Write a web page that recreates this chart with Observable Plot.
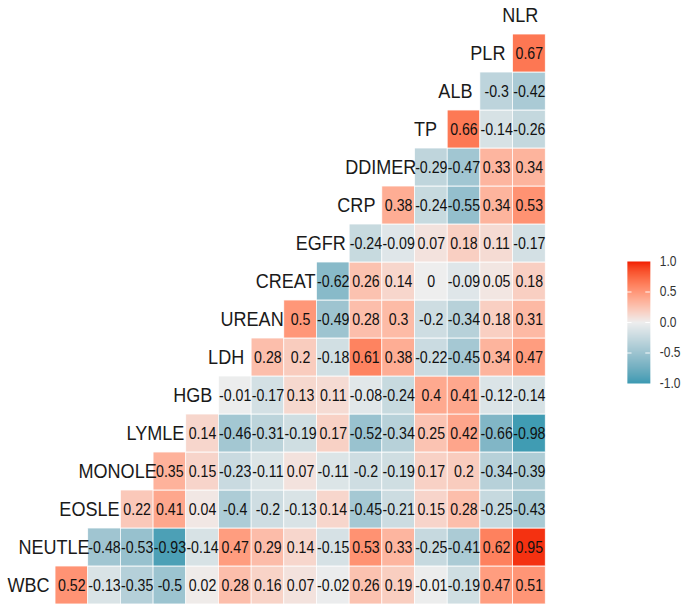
<!DOCTYPE html>
<html>
<head>
<meta charset="utf-8">
<script src="https://cdn.jsdelivr.net/npm/d3@7"></script>
<script src="https://cdn.jsdelivr.net/npm/@observablehq/plot@0.6"></script>
<style>
  html, body { margin: 0; padding: 0; background: #fff; overflow: hidden; }
  #wrap { position: absolute; left: 0; top: 0; width: 795.3px; height: 613px;
          transform: scaleX(0.86); transform-origin: 0 0; }
  #wrap svg { position: absolute; font-family: "Liberation Sans", Arial, sans-serif; }
</style>
</head>
<body>
<div id="wrap"></div>
<script>
// Variables, bottom row to top row (also left column to right column)
const variables = ["WBC","NEUTLE","EOSLE","MONOLE","LYMLE","HGB","LDH","UREAN","CREAT","EGFR","CRP","DDIMER","TP","ALB","PLR","NLR"];

// Correlations of each row variable with the variables to its right
const rowWBC    = [0.52, -0.13, -0.35, -0.5, 0.02, 0.28, 0.16, 0.07, -0.02, 0.26, 0.19, -0.01, -0.19, 0.47, 0.51];
const rowNEUTLE = [-0.48, -0.53, -0.93, -0.14, 0.47, 0.29, 0.14, -0.15, 0.53, 0.33, -0.25, -0.41, 0.62, 0.95];
const rowEOSLE  = [0.22, 0.41, 0.04, -0.4, -0.2, -0.13, 0.14, -0.45, -0.21, 0.15, 0.28, -0.25, -0.43];
const rowMONOLE = [0.35, 0.15, -0.23, -0.11, 0.07, -0.11, -0.2, -0.19, 0.17, 0.2, -0.34, -0.39];
const rowLYMLE  = [0.14, -0.46, -0.31, -0.19, 0.17, -0.52, -0.34, 0.25, 0.42, -0.66, -0.98];
const rowHGB    = [-0.01, -0.17, 0.13, 0.11, -0.08, -0.24, 0.4, 0.41, -0.12, -0.14];
const rowLDH    = [0.28, 0.2, -0.18, 0.61, 0.38, -0.22, -0.45, 0.34, 0.47];
const rowUREAN  = [0.5, -0.49, 0.28, 0.3, -0.2, -0.34, 0.18, 0.31];
const rowCREAT  = [-0.62, 0.26, 0.14, 0, -0.09, 0.05, 0.18];
const rowEGFR   = [-0.24, -0.09, 0.07, 0.18, 0.11, -0.17];
const rowCRP    = [0.38, -0.24, -0.55, 0.34, 0.53];
const rowDDIMER = [-0.29, -0.47, 0.33, 0.34];
const rowTP     = [0.66, -0.14, -0.26];
const rowALB    = [-0.3, -0.42];
const rowPLR    = [0.67];

const legendTicks = [-1, -0.5, 0, 0.5, 1];

const rows = [rowWBC,rowNEUTLE,rowEOSLE,rowMONOLE,rowLYMLE,rowHGB,rowLDH,rowUREAN,rowCREAT,rowEGFR,rowCRP,rowDDIMER,rowTP,rowALB,rowPLR];

const cells = [];
rows.forEach((vals, i) => {
  vals.forEach((v, k) => {
    cells.push({row: variables[i], col: variables[i + 1 + k], value: v});
  });
});

const colorOpts = {
  type: "linear",
  domain: [-1, 0, 1],
  range: ["#3B9AB2", "#EEEEEE", "#F21A00"],
  interpolate: "lab",
  clamp: true
};

// measure label widths (ggcorr places diagonal labels with hjust = 0.75)
const canvas = document.createElement("canvas");
const ctx = canvas.getContext("2d");
const labelSize = 21;
ctx.font = `${labelSize}px "Liberation Sans", Arial, sans-serif`;

const labelMarks = variables.map(v => {
  const w = ctx.measureText(v).width;
  return Plot.text([v], {
    x: d => d, y: d => d, text: d => d,
    textAnchor: "end", dx: 0.25 * w,
    fontSize: labelSize, fill: "#1a1a1a"
  });
});

const W = 795.3, H = 613;
const main = Plot.plot({
  width: W, height: H,
  margin: 0,
  x: {type: "band", domain: variables, range: [20.6, 639.5], padding: 0, axis: null},
  y: {type: "band", domain: variables, range: [609.5, -9.7], padding: 0, axis: null},
  color: colorOpts,
  style: {fontFamily: '"Liberation Sans", Arial, sans-serif', background: "transparent", overflow: "visible"},
  marks: [
    Plot.cell(cells, {x: "col", y: "row", fill: "value", stroke: "white", strokeWidth: 0.8, inset: 0}),
    Plot.text(cells, {x: "col", y: "row", text: d => String(d.value), fontSize: 16.5, fill: "#111"}),
    ...labelMarks
  ]
});
main.style.left = "0px";
main.style.top = "0px";

const legend = Plot.plot({
  width: 100, height: 160,
  marginLeft: 29, marginRight: 44.3, marginTop: 21, marginBottom: 17,
  x: {domain: [0, 1], axis: null},
  y: {domain: [-1, 1], axis: null},
  color: colorOpts,
  style: {fontFamily: '"Liberation Sans", Arial, sans-serif', background: "transparent", overflow: "visible"},
  marks: [
    Plot.raster({fill: (x, y) => y, x1: 0, x2: 1, y1: -1, y2: 1, width: 1, height: 244, imageRendering: "auto"}),
    Plot.ruleY(legendTicks.slice(1, -1), {x1: 0, x2: 0.2, stroke: "white", strokeWidth: 1}),
    Plot.ruleY(legendTicks.slice(1, -1), {x1: 0.8, x2: 1, stroke: "white", strokeWidth: 1}),
    Plot.axisY(legendTicks, {anchor: "right", tickSize: 0, tickPadding: 11, fontSize: 14, fill: "#333", tickFormat: d => d.toFixed(1), label: null})
  ]
});
legend.style.left = "700px";
legend.style.top = "240px";

const wrap = document.getElementById("wrap");
wrap.appendChild(main);
wrap.appendChild(legend);
</script>
</body>
</html>
